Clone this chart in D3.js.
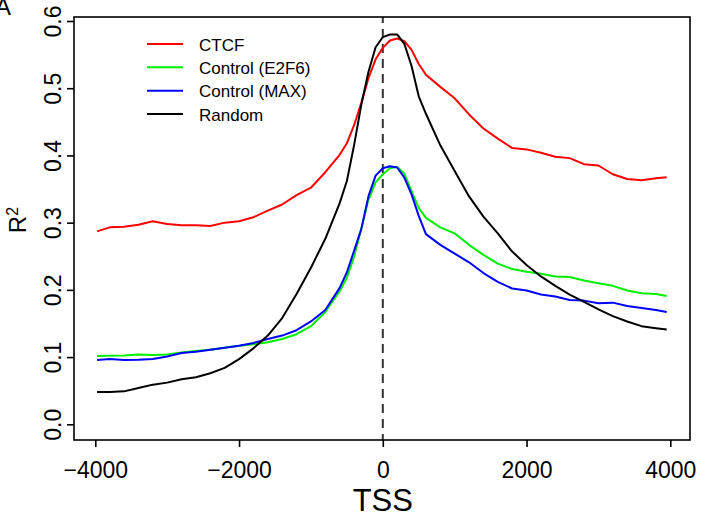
<!DOCTYPE html>
<html>
<head>
    <meta charset="utf-8">
    <title>R2 around TSS</title>
    <script src="https://d3js.org/d3.v7.min.js"></script>
    <style>
        body { margin: 0; background: #fff; }
        svg text { font-family: "Liberation Sans", Arial, Helvetica, sans-serif; }
    </style>
</head>
<body>
<div id="vis"></div>
<script>
    // distance to TSS (bp)
    var positions = [-3975, -3800, -3600, -3400, -3200, -3000, -2800, -2600, -2400, -2200,
        -2000, -1800, -1600, -1400, -1200, -1000, -800, -600, -500, -400, -300, -200, -100,
        0, 100, 200, 300, 400, 500, 600, 800, 1000, 1200, 1400, 1600, 1800, 2000, 2200,
        2400, 2600, 2800, 3000, 3200, 3400, 3600, 3800, 3950];

    var ctcf = [0.287, 0.293, 0.294, 0.297, 0.302, 0.298, 0.296, 0.296, 0.295, 0.300,
        0.302, 0.308, 0.318, 0.327, 0.341, 0.352, 0.375, 0.401, 0.418, 0.445, 0.478, 0.515, 0.543,
        0.560, 0.571, 0.574, 0.570, 0.557, 0.536, 0.520, 0.502, 0.485, 0.461, 0.440, 0.425, 0.411, 0.409, 0.404,
        0.398, 0.396, 0.387, 0.385, 0.372, 0.365, 0.363, 0.366, 0.3675];

    var e2f6 = [0.1015, 0.102, 0.1025, 0.104, 0.103, 0.104, 0.107, 0.109, 0.111, 0.114,
        0.117, 0.119, 0.122, 0.127, 0.134, 0.146, 0.167, 0.198, 0.218, 0.249, 0.291, 0.334, 0.360,
        0.372, 0.381, 0.383, 0.373, 0.347, 0.322, 0.307, 0.293, 0.284, 0.267, 0.252, 0.239, 0.231, 0.227, 0.224,
        0.220, 0.219, 0.214, 0.210, 0.206, 0.199, 0.195, 0.194, 0.191];

    var max = [0.0957, 0.097, 0.0955, 0.096, 0.097, 0.101, 0.106, 0.108, 0.111, 0.114,
        0.117, 0.121, 0.127, 0.132, 0.140, 0.153, 0.170, 0.203, 0.226, 0.258, 0.290, 0.339, 0.370,
        0.381, 0.384, 0.382, 0.367, 0.342, 0.310, 0.283, 0.267, 0.254, 0.241, 0.225, 0.212, 0.202, 0.199, 0.193,
        0.190, 0.185, 0.184, 0.180, 0.181, 0.176, 0.173, 0.170, 0.167];

    var random = [0.048, 0.048, 0.049, 0.054, 0.059, 0.062, 0.067, 0.070, 0.076, 0.084,
        0.097, 0.113, 0.132, 0.158, 0.194, 0.233, 0.276, 0.329, 0.362, 0.415, 0.475, 0.524, 0.561,
        0.576, 0.580, 0.580, 0.566, 0.533, 0.488, 0.462, 0.415, 0.377, 0.339, 0.309, 0.284, 0.257, 0.237, 0.220,
        0.206, 0.193, 0.182, 0.171, 0.161, 0.153, 0.146, 0.143, 0.141];

    var seriesNames = ["CTCF", "Control (E2F6)", "Control (MAX)", "Random"];
    var xTicks = [-4000, -2000, 0, 2000, 4000];
    var yTicks = [0.0, 0.1, 0.2, 0.3, 0.4, 0.5, 0.6];

    var series = [
        {name: seriesNames[0], values: ctcf, color: "#ff0000"},
        {name: seriesNames[1], values: e2f6, color: "#00ee00"},
        {name: seriesNames[2], values: max, color: "#0000ff"},
        {name: seriesNames[3], values: random, color: "#000000"}
    ];

    var width = 701, height = 517;
    // plot box (R style, 4% padding around data)
    var box = {left: 74, top: 17, right: 690, bottom: 440};

    var svg = d3.select("#vis").append("svg")
        .attr("width", width)
        .attr("height", height);

    var xScale = d3.scaleLinear()
        .domain([-4000, 4000])
        .range([95.3, 670.3]);

    var yScale = d3.scaleLinear()
        .domain([0, 0.6])
        .range([424.3, 21]);

    // dashed line at TSS
    svg.append("line")
        .attr("x1", xScale(0)).attr("x2", xScale(0))
        .attr("y1", box.bottom).attr("y2", box.top)
        .attr("stroke", "#333")
        .attr("stroke-width", 2)
        .attr("stroke-dasharray", "9,6")
        .attr("stroke-dashoffset", 3);

    var line = d3.line()
        .x(function(d, i) { return xScale(positions[i]); })
        .y(function(d) { return yScale(d); });

    svg.selectAll("path.series")
        .data(series)
        .enter()
        .append("path")
            .attr("class", "series")
            .attr("d", function(d) { return line(d.values); })
            .attr("fill", "none")
            .attr("stroke", function(d) { return d.color; })
            .attr("stroke-width", 2)
            .attr("stroke-linejoin", "round");

    // box
    svg.append("rect")
        .attr("x", box.left)
        .attr("y", box.top)
        .attr("width", box.right - box.left)
        .attr("height", box.bottom - box.top)
        .attr("fill", "none")
        .attr("stroke", "#000")
        .attr("stroke-width", 1.6);

    // X axis
    var xAxis = svg.append("g")
        .attr("transform", "translate(0," + box.bottom + ")")
        .call(d3.axisBottom(xScale).tickValues(xTicks).tickSize(7).tickFormat(d3.format("d")));
    xAxis.select(".domain").remove();
    xAxis.selectAll("line").attr("stroke-width", 1.6);
    xAxis.selectAll("text")
        .attr("y", 38.3)
        .attr("dy", 0)
        .attr("fill", "#000")
        .style("font-size", "23px")
        .style("font-family", "Liberation Sans, Arial, sans-serif");

    // Y axis, labels turned like R does
    var yAxis = svg.append("g")
        .attr("transform", "translate(" + box.left + ",0)")
        .call(d3.axisLeft(yScale).tickValues(yTicks).tickSize(7).tickFormat(d3.format(".1f")));
    yAxis.select(".domain").remove();
    yAxis.selectAll("line").attr("stroke-width", 1.6);
    yAxis.selectAll("text")
        .attr("transform", "rotate(-90)")
        .attr("x", 0)
        .attr("y", -13)
        .attr("dy", 0)
        .attr("text-anchor", "middle")
        .attr("fill", "#000")
        .style("font-size", "23px")
        .style("font-family", "Liberation Sans, Arial, sans-serif");

    // axis titles
    svg.append("text")
        .attr("x", xScale(0))
        .attr("y", 511)
        .attr("text-anchor", "middle")
        .attr("font-size", 31)
        .text("TSS");

    var ylab = svg.append("text")
        .attr("transform", "translate(26,220) rotate(-90)")
        .attr("text-anchor", "middle")
        .attr("font-size", 24);
    ylab.append("tspan").text("R");
    ylab.append("tspan")
        .attr("dy", -8)
        .attr("font-size", 16)
        .text("2");

    // panel letter, cut by the page edge like the source figure
    svg.append("text")
        .attr("x", -5)
        .attr("y", 15)
        .attr("font-size", 24)
        .text("A");

    // legend
    var legend = svg.append("g");
    var legendY = d3.scalePoint()
        .domain(seriesNames)
        .range([44, 114]);

    legend.selectAll("line")
        .data(series)
        .enter()
        .append("line")
            .attr("x1", 147).attr("x2", 183)
            .attr("y1", function(d) { return legendY(d.name); })
            .attr("y2", function(d) { return legendY(d.name); })
            .attr("stroke", function(d) { return d.color; })
            .attr("stroke-width", 2);

    legend.selectAll("text")
        .data(series)
        .enter()
        .append("text")
            .attr("x", 199)
            .attr("y", function(d) { return legendY(d.name) + 6.5; })
            .attr("font-size", 17)
            .text(function(d) { return d.name; });
</script>
</body>
</html>
